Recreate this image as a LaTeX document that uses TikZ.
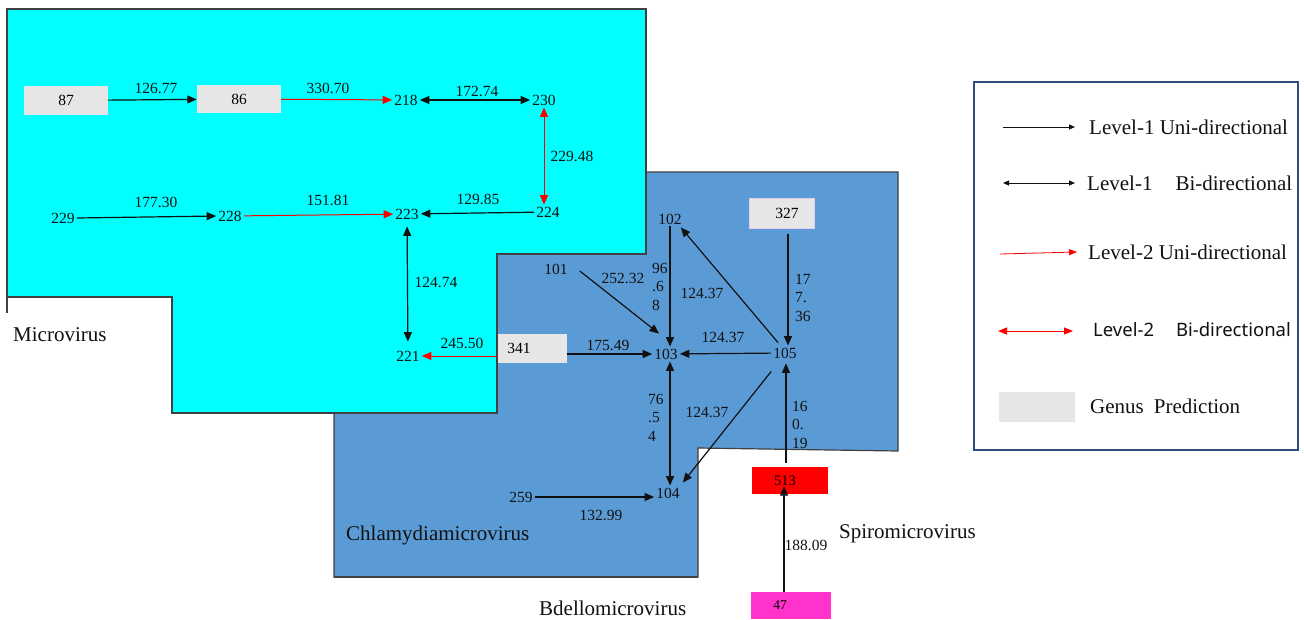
\documentclass[tikz,border=0pt]{standalone}
\usepackage{fontspec}
\setmainfont{Liberation Serif}
\newfontfamily\legsans{Noto Sans}
\usetikzlibrary{arrows.meta}
\definecolor{cyanfill}{HTML}{00FFFF}
\definecolor{bluefill}{HTML}{5B9BD5}
\definecolor{boxgray}{HTML}{E6E6E6}
\definecolor{edgegray}{HTML}{404040}
\definecolor{legblue}{HTML}{2F4B7C}
\definecolor{magentabox}{HTML}{FF33CC}
\definecolor{lavender}{HTML}{E2CCEA}
\definecolor{inkblack}{HTML}{111111}
\begin{document}
\begin{tikzpicture}[x=1pt,y=-1pt,
  num/.style={font=\fontsize{15.5}{18}\selectfont, inner sep=2pt, text=inkblack},
  lbl/.style={font=\fontsize{15.5}{18}\selectfont, inner sep=0pt, text=inkblack},
  stack/.style={font=\fontsize{15.5}{18.5}\selectfont, inner sep=0pt, align=left, anchor=north west, text=inkblack},
  genus/.style={font=\fontsize{21}{25}\selectfont, inner sep=0pt, anchor=west, text=inkblack},
  gbox/.style={fill=boxgray, inner sep=0pt, font=\fontsize{15.5}{18}\selectfont},
  tip/.tip={Triangle[length=9.5pt,width=8pt]},
  arr/.style={-tip, line width=1.2pt, inkblack},
  barr/.style={tip-tip, line width=1.2pt, inkblack},
  rarr/.style={-tip, line width=1pt, red},
  rbarr/.style={tip-tip, line width=1pt, red},
  region/.style={draw=edgegray, line width=1.2pt},
]
\useasboundingbox (0,0) rectangle (1304,619);

% Chlamydiamicrovirus region
\fill[bluefill] (334,577) -- (334,413) -- (497,413) -- (497,254) -- (646,254) -- (646,172)
  -- (898,172) -- (898,451) -- (698,448) -- (698,577) -- cycle;
\draw[region] (334,413) -- (334,577) -- (698,577) -- (698,448) -- (898,451) -- (898,172) -- (646,172);
\draw[edgegray, line width=2pt] (334,577) -- (698,577);

% Microvirus region
\fill[cyanfill] (7,9) -- (646,9) -- (646,254) -- (497,254) -- (497,413) -- (172,413)
  -- (172,297) -- (7,297) -- cycle;
\draw[region] (7,313) -- (7,9) -- (646,9) -- (646,254) -- (497,254) -- (497,413)
  -- (172,413) -- (172,297) -- (7,297);

% nodes
\node[gbox, minimum width=84pt, minimum height=29pt] (n87) at (66,100.5) {87};
\node[gbox, minimum width=84pt, minimum height=28pt] (n86) at (239,99) {86};
\node[num] (n218) at (406,100) {218};
\node[num] (n230) at (544,100) {230};
\node[num] (n229) at (63,218) {229};
\node[num] (n228) at (230,216) {228};
\node[num] (n223) at (407,214) {223};
\node[num] (n224) at (548,212) {224};
\node[num] (n221) at (408,356) {221};
\node[gbox, minimum width=69pt, minimum height=29pt] (n341) at (532.5,348.5) {341\hspace*{27pt}};
\node[gbox, draw=lavender, line width=0.6pt, minimum width=65pt, minimum height=30pt] (n327) at (781.5,213) {\hspace*{11pt}327};
\node[num] (n102) at (670,219) {102};
\node[num] (n101) at (556,269) {101};
\node[num] (n103) at (666,354) {103};
\node[num] (n105) at (785,353) {105};
\node[num] (n104) at (668,493) {104};
\node[num] (n259) at (521,497) {259};
\node[fill=red, inner sep=0pt, minimum width=76pt, minimum height=27pt,
  font=\fontsize{14.5}{17}\selectfont] (n513) at (790,480.5) {513\hspace*{10pt}};
\node[fill=magentabox, inner sep=0pt, minimum width=80pt, minimum height=27pt,
  font=\fontsize{13.5}{16}\selectfont] (n47) at (791,605.5) {47\hspace*{22pt}};

% edges
\draw[arr] (n87) -- (n86);
\draw[rarr] (n86) -- (n218);
\draw[barr] (n218) -- (n230);
\draw[rbarr] (n230.south) -- (n230.south |- n224.north);
\draw[arr] (n229.east) -- (n228.west);
\draw[rarr] (n228) -- (n223);
\draw[arr] (n224) -- (n223);
\draw[barr, shorten <=5pt, shorten >=7pt] (n223) -- (n221);
\draw[rarr] (n341.west |- n221) -- (n221);
\draw[arr] (n341.east |- n103) -- (n103);
\draw[arr] ([shift={(10pt,-2pt)}]n101.east) -- ([shift={(-7pt,13pt)}]n103.north);
\draw[arr] (n102.south) -- (n102.south |- n103.north);
\draw[arr] ([shift={(-7pt,3pt)}]n105.north) -- ([shift={(-3pt,-1pt)}]n102.south east);
\draw[arr] ([shift={(6.5pt,-6pt)}]n327.south) -- ([xshift=3pt]n105.north);
\draw[arr] (n105) -- (n103);
\draw[barr] (n103.south -| n102.south) -- (n104.north -| n102.south);
\draw[arr] ([yshift=-11pt]n105.south west) -- ([shift={(1pt,3pt)}]n104.north east);
\draw[arr] ([shift={(-4pt,4pt)}]n513.north) -- ([shift={(1pt,-3pt)}]n105.south);
\draw[arr] ([xshift=-7pt]n47.north) -- ([shift={(-6pt,8pt)}]n513.south);
\draw[arr] (n259.east) -- (n259.east -| n104.west);

% edge labels
\node[lbl] at (156,88) {126.77};
\node[lbl] at (328,88) {330.70};
\node[lbl] at (477,91) {172.74};
\node[lbl] at (572,156) {229.48};
\node[lbl] at (156,202) {177.30};
\node[lbl] at (328,200) {151.81};
\node[lbl] at (478,199) {129.85};
\node[lbl] at (436,282) {124.74};
\node[lbl] at (462,343) {245.50};
\node[lbl] at (608,345) {175.49};
\node[lbl] at (623,278) {252.32};
\node[lbl] at (702,293) {124.37};
\node[lbl] at (723,337) {124.37};
\node[lbl] at (707,412) {124.37};
\node[lbl] at (601,515) {132.99};
\node[lbl] at (806,545) {188.09};
\node[stack] at (652,263) {96\\.6\\8};
\node[stack] at (648,394) {76\\.5\\4};
\node[stack] at (795,274) {17\\7.\\36};
\node[stack] at (792,401) {16\\0.\\19};

% genus labels
\node[genus] at (13,335) {Microvirus};
\node[genus] at (346,535) {Chlamydiamicrovirus};
\node[genus] at (839,534) {Spiromicrovirus};
\node[genus] at (539,608) {Bdellomicrovirus};

% legend
\draw[legblue, line width=1.3pt] (974,82) rectangle (1298,450);
\coordinate (l1a) at (1003,127); \coordinate (l1b) at (1075,127);
\coordinate (l2a) at (1003,183); \coordinate (l2b) at (1075,183);
\coordinate (l3a) at (1000,254); \coordinate (l3b) at (1077,252);
\coordinate (l4a) at (998,331);  \coordinate (l4b) at (1073,331);
\draw[-{Triangle[length=6pt,width=5pt]}, line width=0.9pt, inkblack] (l1a) -- (l1b);
\draw[{Triangle[length=6pt,width=5pt]}-{Triangle[length=6pt,width=5pt]}, line width=0.9pt, inkblack] (l2a) -- (l2b);
\draw[-{Triangle[length=8pt,width=6pt]}, line width=0.8pt, red] (l3a) -- (l3b);
\draw[{Triangle[length=9pt,width=7pt]}-{Triangle[length=9pt,width=7pt]}, line width=1pt, red] (l4a) -- (l4b);
\node[genus] at (1089,127) {Level-1 Uni-directional};
\node[genus] at (1087,183) {Level-1\hspace*{23pt}Bi-directional};
\node[genus] at (1088,252) {Level-2 Uni-directional};
\node[genus, font=\legsans\fontsize{18.5}{22}\selectfont] at (1093,330) {Level-2\hspace*{22pt}Bi-directional};
\node[fill=boxgray, inner sep=0pt, minimum width=76pt, minimum height=30pt] (legbox) at (1037,407) {};
\node[genus] at (1090,406) {Genus\hspace*{10pt}Prediction};
\end{tikzpicture}
\end{document}
